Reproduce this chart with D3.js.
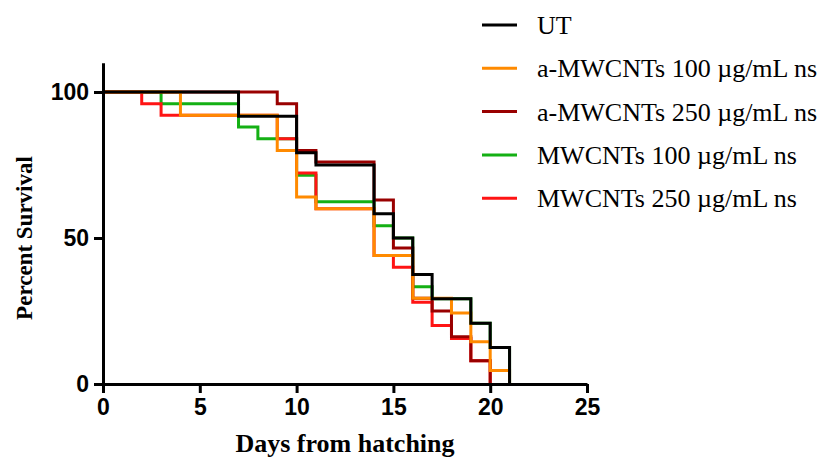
<!DOCTYPE html>
<html>
<head>
<meta charset="utf-8">
<script src="https://cdn.jsdelivr.net/npm/d3@7"></script>
<style>
  body { margin: 0; background: #fff; }
</style>
</head>
<body>
<div id="container"></div>
<script>
// Kaplan-Meier steps (day of drop, percent surviving after it)
var utDays = [0, 7, 10, 11, 14, 15, 16, 17, 19, 20, 21];
var utSurv = [100, 91.7, 79.2, 75, 58.3, 50, 37.5, 29.2, 20.8, 12.5, 0];
var a100Days = [0, 4, 9, 10, 11, 14, 16, 18, 19, 20, 21];
var a100Surv = [100, 92, 80, 64, 60, 44, 29.4, 24.3, 14.5, 4.6, 0];
var a250Days = [0, 9, 10, 11, 14, 15, 16, 17, 18, 19, 20];
var a250Surv = [100, 96, 80, 76, 63, 46.6, 29.4, 25, 16.2, 8, 0];
var m100Days = [0, 3, 7, 8, 10, 11, 14, 15, 16, 17, 19, 20, 21];
var m100Surv = [100, 96, 88, 84, 71.5, 62.4, 54.2, 50, 33.3, 29.2, 20.8, 12.5, 0];
var m250Days = [0, 2, 3, 9, 10, 11, 14, 15, 16, 17, 18, 19, 20];
var m250Surv = [100, 96, 92, 84, 72.3, 60, 44, 40, 28, 20, 15.6, 8, 0];

var legendLabels = ['UT', 'a-MWCNTs 100 \u00b5g/mL ns', 'a-MWCNTs 250 \u00b5g/mL ns',
                    'MWCNTs 100 \u00b5g/mL ns', 'MWCNTs 250 \u00b5g/mL ns'];
var xTicks = [0, 5, 10, 15, 20, 25];
var yTicks = [0, 50, 100];

var colors = ['#000000', '#ff8a00', '#990000', '#14b014', '#ff1414'];
var series = [
  {days: utDays, surv: utSurv},
  {days: a100Days, surv: a100Surv},
  {days: a250Days, surv: a250Surv},
  {days: m100Days, surv: m100Surv},
  {days: m250Days, surv: m250Surv}
];

var width = 827, height = 459;
var svg = d3.select('#container')
      .append('svg')
      .attr('width', width)
      .attr('height', height);

var x = d3.scaleLinear().domain([0, 25]).range([103, 587]);
var y = d3.scaleLinear().domain([0, 110]).range([384, 62.8]);

var line = d3.line()
      .curve(d3.curveStepAfter)
      .x(function(d) { return x(d[0]); })
      .y(function(d) { return y(d[1]); });

// draw bottom to top: green, red, dark red, orange, black
var order = [3, 4, 2, 1, 0];
order.forEach(function(k) {
  var s = series[k];
  var pts = s.days.map(function(d, i) { return [d, s.surv[i]]; });
  svg.append('path')
    .attr('d', line(pts))
    .style('fill', 'none')
    .style('stroke', colors[k])
    .style('stroke-width', 3);
});

var xAxis = svg.append('g')
      .attr('transform', 'translate(0,' + y(0) + ')')
      .call(d3.axisBottom(x).tickValues(xTicks).tickSize(9).tickSizeOuter(0).tickPadding(6));
var yAxis = svg.append('g')
      .attr('transform', 'translate(' + x(0) + ',0)')
      .call(d3.axisLeft(y).tickValues(yTicks).tickSize(9).tickSizeOuter(0).tickPadding(5));

[xAxis, yAxis].forEach(function(g) {
  g.selectAll('path, line').style('stroke', '#000').style('stroke-width', 3);
  g.selectAll('text')
    .style('font-family', '"Liberation Sans", Arial, sans-serif')
    .style('font-weight', 'bold')
    .style('font-size', '23px')
    .style('fill', '#000');
});

svg.append('text')
  .attr('transform', 'translate(32,' + y(50) + ') rotate(-90)')
  .attr('text-anchor', 'middle')
  .style('font-family', '"Liberation Serif", "Times New Roman", serif')
  .style('font-weight', 'bold')
  .style('font-size', '23px')
  .text('Percent Survival');

svg.append('text')
  .attr('x', 345)
  .attr('y', 452)
  .attr('text-anchor', 'middle')
  .style('font-family', '"Liberation Serif", "Times New Roman", serif')
  .style('font-weight', 'bold')
  .style('font-size', '26px')
  .text('Days from hatching');

var legend = svg.selectAll('.legend')
      .data(legendLabels)
      .enter()
      .append('g')
      .attr('class', 'legend')
      .attr('transform', function(d, i) { return 'translate(482,' + (25 + i * 43.3) + ')'; });
legend.append('line')
  .attr('x1', 0).attr('x2', 35)
  .style('stroke', function(d, i) { return colors[i]; })
  .style('stroke-width', 3);
legend.append('text')
  .attr('x', 55)
  .attr('y', 9)
  .style('font-family', '"Liberation Serif", "Times New Roman", serif')
  .style('font-size', '26px')
  .text(function(d) { return d; });
</script>
</body>
</html>
